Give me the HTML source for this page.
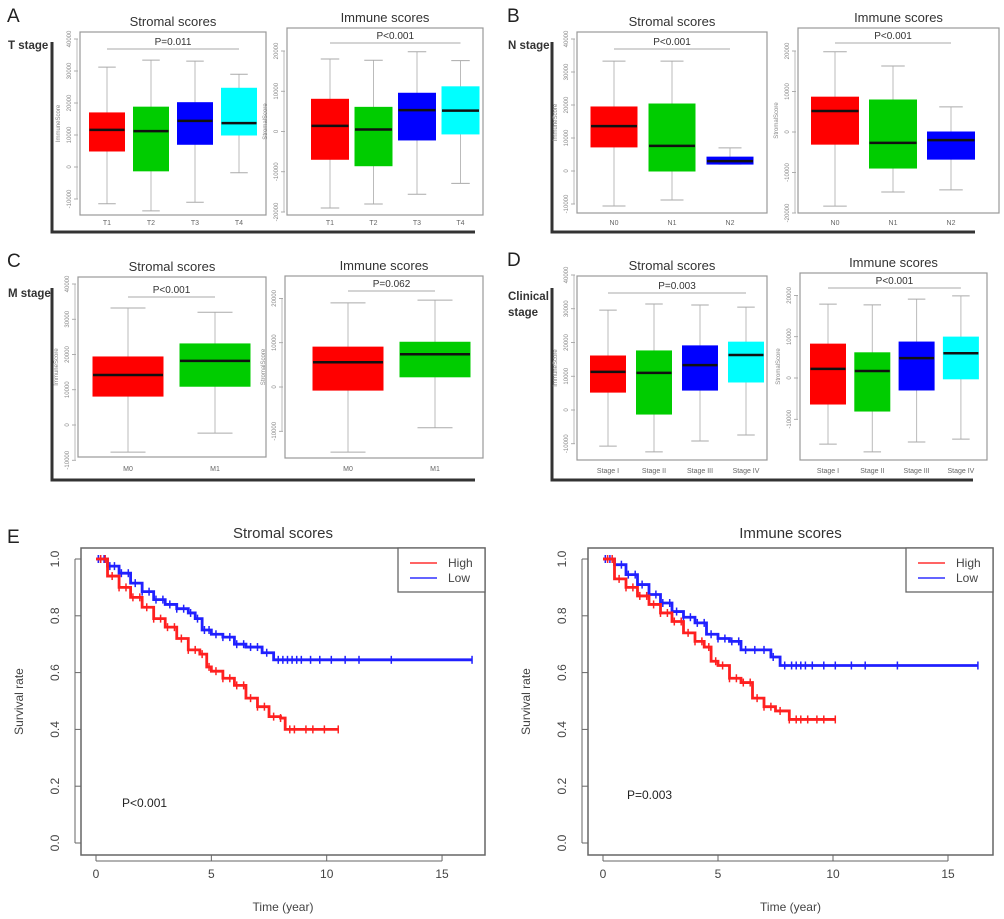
<!DOCTYPE html>
<html><head><meta charset="utf-8">
<style>
body{margin:0;background:#fff;}
svg{display:block;font-family:"Liberation Sans",sans-serif;}
</style></head>
<body>
<svg id="fig" width="1004" height="919" viewBox="0 0 1004 919" xmlns="http://www.w3.org/2000/svg">
<g font-size="19" fill="#222">
<text x="7" y="22">A</text>
<text x="507" y="22">B</text>
<text x="7" y="267">C</text>
<text x="507" y="266">D</text>
<text x="7" y="543">E</text>
</g>
<g font-size="11.5" font-weight="bold" fill="#333">
<text x="8" y="49">T stage</text>
<text x="508" y="49">N stage</text>
<text x="8" y="297">M stage</text>
<text x="508" y="300">Clinical</text>
<text x="508" y="316">stage</text>
</g>
<g stroke="#333" stroke-width="3" fill="none">
<polyline points="52,42 52,232 475,232"/>
<polyline points="552,42 552,232 975,232"/>
<polyline points="52,288 52,480 475,480"/>
<polyline points="552,288 552,480 973,480"/>
</g>
</svg>
<script>
// ---------- Box plot data ----------
const catsT = ["T1","T2","T3","T4"];
const catsN = ["N0","N1","N2"];
const catsM = ["M0","M1"];
const catsS = ["Stage I","Stage II","Stage III","Stage IV"];
const colors4 = ["#ff0000","#00cc00","#0000ff","#00ffff"];
const stromalTicks = [-10000,0,10000,20000,30000,40000];
const immuneTicks = [-20000,-10000,0,10000,20000];

// [whiskerHigh, q3, median, q1, whiskerLow]
const aStromalHi=[31200,33400,33100,29000], aStromalQ3=[16900,18700,20100,24600], aStromalMed=[11600,11200,14400,13700], aStromalQ1=[5000,-1200,7100,10000], aStromalLo=[-11500,-13700,-11000,-1800];
const aImmuneHi=[18000,17700,19800,17600], aImmuneQ3=[8000,6000,9500,11100], aImmuneMed=[1400,500,5300,5200], aImmuneQ1=[-6900,-8500,-2100,-600], aImmuneLo=[-19000,-18000,-15600,-12900];
const bStromalHi=[33300,33300,7000], bStromalQ3=[19400,20300,4200], bStromalMed=[13600,7600,3000], bStromalQ1=[7300,0,2100], bStromalLo=[-10600,-8800,2100];
const bImmuneHi=[19800,16300,6200], bImmuneQ3=[8600,7900,0], bImmuneMed=[5200,-2700,-2000], bImmuneQ1=[-3000,-8900,-6700], bImmuneLo=[-18300,-14800,-14300];
const cStromalHi=[33200,32000], cStromalQ3=[19300,23000], cStromalMed=[14200,18200], cStromalQ1=[8200,11000], cStromalLo=[-7700,-2300];
const cImmuneHi=[19000,19600], cImmuneQ3=[9000,10100], cImmuneMed=[5600,7400], cImmuneQ1=[-700,2300], cImmuneLo=[-14700,-9200];
const dStromalHi=[29600,31400,31100,30500], dStromalQ3=[16000,17500,19000,20100], dStromalMed=[11300,11000,13300,16300], dStromalQ1=[5300,-1200,5900,8300], dStromalLo=[-10700,-12400,-9200,-7400];
const dImmuneHi=[17900,17700,19100,19900], dImmuneQ3=[8200,6100,8700,9900], dImmuneMed=[2200,1700,4800,6000], dImmuneQ1=[-6300,-8000,-2900,-200], dImmuneLo=[-16000,-17900,-15500,-14800];

// ---------- KM data ----------
const kmStromalLowT=[0,0.5,1,1.5,2,2.5,3,3.5,4,4.3,4.6,5,5.5,6,6.5,7,7.2,7.7,16.3];
const kmStromalLowS=[1,0.975,0.95,0.915,0.885,0.857,0.84,0.825,0.81,0.79,0.75,0.735,0.725,0.70,0.69,0.69,0.67,0.645,0.645];
const kmStromalHighT=[0,0.5,1,1.5,2,2.5,3,3.5,4,4.5,4.8,5,5.5,6,6.5,7,7.5,8,8.2,10.5];
const kmStromalHighS=[1,0.94,0.90,0.865,0.83,0.79,0.76,0.72,0.68,0.665,0.62,0.605,0.58,0.555,0.51,0.48,0.445,0.44,0.40,0.40];
const kmImmuneLowT=[0,0.5,1,1.5,2,2.5,3,3.5,4,4.5,5,5.5,6,7,7.3,7.7,16.3];
const kmImmuneLowS=[1,0.98,0.945,0.91,0.875,0.845,0.815,0.795,0.775,0.735,0.72,0.71,0.68,0.68,0.655,0.625,0.625];
const kmImmuneHighT=[0,0.5,1,1.5,2,2.5,3,3.5,4,4.4,4.7,5,5.5,6,6.5,7,7.5,8,8.1,10.1];
const kmImmuneHighS=[1,0.93,0.90,0.87,0.84,0.81,0.78,0.74,0.71,0.69,0.64,0.625,0.58,0.565,0.51,0.48,0.465,0.465,0.435,0.435];
const censorStromalLow=[0.1,0.2,0.35,0.6,0.8,1.1,1.4,1.7,2.0,2.3,2.6,2.9,3.2,3.5,3.8,4.1,4.4,4.7,4.9,5.2,5.5,5.8,6.1,6.4,6.7,7.0,7.4,7.9,8.1,8.3,8.5,8.7,8.9,9.3,9.7,10.2,10.8,11.4,12.8,16.3];
const censorStromalHigh=[0.2,0.4,0.7,1.0,1.3,1.6,1.9,2.2,2.5,2.8,3.1,3.4,3.7,4.0,4.3,4.6,4.9,5.2,5.5,5.8,6.1,6.4,6.7,7.0,7.3,7.7,8.0,8.4,8.6,9.1,9.4,9.9,10.5];
const censorImmuneLow=[0.1,0.3,0.5,0.8,1.1,1.4,1.7,2.0,2.3,2.6,2.9,3.2,3.5,3.8,4.1,4.4,4.7,5.0,5.3,5.6,5.9,6.2,6.6,7.0,7.4,7.9,8.2,8.4,8.6,8.8,9.1,9.6,10.1,10.8,11.4,12.8,16.3];
const censorImmuneHigh=[0.2,0.4,0.7,1.0,1.3,1.6,1.9,2.2,2.5,2.8,3.1,3.4,3.7,4.0,4.3,4.6,4.9,5.2,5.5,5.8,6.1,6.4,6.7,7.0,7.3,7.7,8.1,8.4,8.6,8.9,9.3,9.6,10.1];
const kmXTicks=[0,5,10,15];
const kmYTicks=[0,0.2,0.4,0.6,0.8,1.0];

const NS="http://www.w3.org/2000/svg";
const fig=document.getElementById('fig');
function mk(tag,attrs,parent){const e=document.createElementNS(NS,tag);for(const k in attrs)e.setAttribute(k,attrs[k]);(parent||fig).appendChild(e);return e;}

function boxPanel(name,L,cats,hi,q3,med,q1,lo,ticks,ylab,title,ptext){
  const g=mk('g',{});
  
  
  const y=v=>L.y0+(L.vRef-v)*L.scale;
  const fr=mk('rect',{x:L.fx0,y:L.fy0,width:L.fx1-L.fx0,height:L.fy1-L.fy0,fill:'none',stroke:'#999','stroke-width':1.2},g);
  
  
  const t=mk('text',{x:(L.fx0+L.fx1)/2,y:L.fy0-6,'text-anchor':'middle','font-size':13,fill:'#333'},g);
  t.textContent=title;
  
  
  ticks.forEach(v=>{
    const yy=y(v);
    const tk=mk('line',{x1:L.fx0-6,x2:L.fx0-2,y1:yy,y2:yy,stroke:'#999','stroke-width':0.8},g);
    
    
    const tl=mk('text',{x:L.fx0-9,y:yy,transform:`rotate(-90 ${L.fx0-9} ${yy})`,'text-anchor':'middle','font-size':6,fill:'#888'},g);
    tl.textContent=v===0?'0':String(v);
    
    
  });
  const ax=mk('line',{x1:L.fx0-3,x2:L.fx0-3,y1:y(ticks[ticks.length-1]),y2:y(ticks[0]),stroke:'#aaa','stroke-width':0.8},g);
  
  
  const yl=mk('text',{x:L.fx0-20,y:(L.fy0+L.fy1)/2,transform:`rotate(-90 ${L.fx0-20} ${(L.fy0+L.fy1)/2})`,'text-anchor':'middle','font-size':6,fill:'#888'},g);
  yl.textContent=ylab;
  
  
  const hw=L.bw/2;
  cats.forEach((c,i)=>{
    const cx=L.cx0+i*L.step;
    const w=mk('line',{x1:cx,x2:cx,y1:y(hi[i]),y2:y(lo[i]),stroke:'#bbb','stroke-width':1},g);
    
    
    [hi[i],lo[i]].forEach(v=>{
      const cap=mk('line',{x1:cx-hw/2,x2:cx+hw/2,y1:y(v),y2:y(v),stroke:'#aaa','stroke-width':1},g);
      
      
    });
    const b=mk('rect',{x:cx-hw,y:y(q3[i]),width:L.bw,height:y(q1[i])-y(q3[i]),fill:colors4[i],stroke:colors4[i]},g);
    
    
    const m=mk('line',{x1:cx-hw,x2:cx+hw,y1:y(med[i]),y2:y(med[i]),stroke:'#111','stroke-width':2.5},g);
    
    
    const xl=mk('text',{x:cx,y:L.xlabY,'text-anchor':'middle','font-size':7,fill:'#666'},g);
    xl.textContent=c;
    
    
  });
  const x0=L.cx0, x1=L.cx0+(cats.length-1)*L.step;
  const pl=mk('line',{x1:x0,x2:x1,y1:L.pY,y2:L.pY,stroke:'#aaa','stroke-width':1},g);
  
  
  const pt=mk('text',{x:(x0+x1)/2,y:L.pY-4,'text-anchor':'middle','font-size':10,fill:'#333'},g);
  pt.textContent=ptext;
  
  
}

boxPanel('a-stromal-boxplot',{fx0:80,fy0:32,fx1:266,fy1:215,y0:167,vRef:0,scale:32/10000,cx0:107,step:44,bw:35,xlabY:225,pY:49},catsT,aStromalHi,aStromalQ3,aStromalMed,aStromalQ1,aStromalLo,stromalTicks,'ImmuneScore','Stromal scores','P=0.011');
boxPanel('a-immune-boxplot',{fx0:287,fy0:28,fx1:483,fy1:215,y0:131.5,vRef:0,scale:40.25/10000,cx0:330,step:43.5,bw:37,xlabY:225,pY:43},catsT,aImmuneHi,aImmuneQ3,aImmuneMed,aImmuneQ1,aImmuneLo,immuneTicks,'StromalScore','Immune scores','P<0.001');
boxPanel('b-stromal-boxplot',{fx0:577,fy0:32,fx1:767,fy1:213,y0:171,vRef:0,scale:33/10000,cx0:614,step:58,bw:46,xlabY:225,pY:49},catsN,bStromalHi,bStromalQ3,bStromalMed,bStromalQ1,bStromalLo,stromalTicks,'ImmuneScore','Stromal scores','P<0.001');
boxPanel('b-immune-boxplot',{fx0:798,fy0:28,fx1:999,fy1:213,y0:132,vRef:0,scale:40.5/10000,cx0:835,step:58,bw:47,xlabY:225,pY:43},catsN,bImmuneHi,bImmuneQ3,bImmuneMed,bImmuneQ1,bImmuneLo,immuneTicks,'StromalScore','Immune scores','P<0.001');
boxPanel('c-stromal-boxplot',{fx0:78,fy0:277,fx1:266,fy1:457,y0:425,vRef:0,scale:35.25/10000,cx0:128,step:87,bw:70,xlabY:471,pY:297},catsM,cStromalHi,cStromalQ3,cStromalMed,cStromalQ1,cStromalLo,stromalTicks,'ImmuneScore','Stromal scores','P<0.001');
boxPanel('c-immune-boxplot',{fx0:285,fy0:276,fx1:483,fy1:458,y0:387,vRef:0,scale:44.3/10000,cx0:348,step:87,bw:70,xlabY:471,pY:291},catsM,cImmuneHi,cImmuneQ3,cImmuneMed,cImmuneQ1,cImmuneLo,[-10000,0,10000,20000],'StromalScore','Immune scores','P=0.062');
boxPanel('d-stromal-boxplot',{fx0:577,fy0:276,fx1:767,fy1:460,y0:410,vRef:0,scale:33.75/10000,cx0:608,step:46,bw:35,xlabY:473,pY:293},catsS,dStromalHi,dStromalQ3,dStromalMed,dStromalQ1,dStromalLo,stromalTicks,'ImmuneScore','Stromal scores','P=0.003');
boxPanel('d-immune-boxplot',{fx0:800,fy0:273,fx1:987,fy1:460,y0:378,vRef:0,scale:41.3/10000,cx0:828,step:44.3,bw:35,xlabY:473,pY:288},catsS,dImmuneHi,dImmuneQ3,dImmuneMed,dImmuneQ1,dImmuneLo,[-10000,0,10000,20000],'StromalScore','Immune scores','P<0.001');

function stepAt(T,S,t){let s=S[0];for(let i=0;i<T.length;i++){if(T[i]<=t)s=S[i];}return s;}
function kmPanel(name,L,title,ptext,series){
  const g=mk('g',{});
  
  
  const X=t=>L.x0+t*L.xs, Y=s=>L.y0-s*L.ys;
  const fr=mk('rect',{x:L.fx0,y:L.fy0,width:L.fx1-L.fx0,height:L.fy1-L.fy0,fill:'none',stroke:'#666','stroke-width':1.5},g);
  
  
  const tt=mk('text',{x:(L.fx0+L.fx1)/2,y:L.fy0-10,'text-anchor':'middle','font-size':15,fill:'#333'},g);
  tt.textContent=title;
  
  
  kmXTicks.forEach(v=>{
    const l=mk('line',{x1:X(v),x2:X(v),y1:L.fy1,y2:L.fy1+6,stroke:'#666'},g);
    
    
    const tx=mk('text',{x:X(v),y:L.fy1+23,'text-anchor':'middle','font-size':12,fill:'#444'},g);
    tx.textContent=String(v);
    
    
  });
  const xa=mk('line',{x1:X(0),x2:X(15),y1:L.fy1+6,y2:L.fy1+6,stroke:'#666'},g);
  
  
  kmYTicks.forEach(v=>{
    const l=mk('line',{x1:L.fx0-6,x2:L.fx0,y1:Y(v),y2:Y(v),stroke:'#666'},g);
    
    
    const tx=mk('text',{x:L.fx0-22,y:Y(v),transform:`rotate(-90 ${L.fx0-22} ${Y(v)})`,'text-anchor':'middle','font-size':12,fill:'#444'},g);
    tx.textContent=v.toFixed(1);
    
    
  });
  const ya=mk('line',{x1:L.fx0-6,x2:L.fx0-6,y1:Y(0),y2:Y(1),stroke:'#666'},g);
  
  
  const yl=mk('text',{x:L.fx0-58,y:(L.fy0+L.fy1)/2,transform:`rotate(-90 ${L.fx0-58} ${(L.fy0+L.fy1)/2})`,'text-anchor':'middle','font-size':12,fill:'#444'},g);
  yl.textContent='Survival rate';
  
  
  const xl=mk('text',{x:(L.fx0+L.fx1)/2,y:L.fy1+56,'text-anchor':'middle','font-size':12,fill:'#444'},g);
  xl.textContent='Time (year)';
  
  
  series.forEach(s=>{
    let d=`M${X(s.T[0])},${Y(s.S[0])}`;
    for(let i=1;i<s.T.length;i++){d+=` L${X(s.T[i])},${Y(s.S[i-1])} L${X(s.T[i])},${Y(s.S[i])}`;}
    const p=mk('path',{d:d,fill:'none',stroke:s.c,'stroke-width':2.8},g);
    
    
    s.cens.forEach(t=>{
      const yy=Y(stepAt(s.T,s.S,t));
      const cm=mk('line',{x1:X(t),x2:X(t),y1:yy-4,y2:yy+4,stroke:s.c,'stroke-width':1.5},g);
      
      
    });
  });
  const lg=mk('g',{},g);
  
  
  mk('rect',{x:L.lx,y:L.fy0,width:L.fx1-L.lx,height:44,fill:'#fff',stroke:'#666','stroke-width':1.3},lg);
  [['High','#ff3030',15],['Low','#3030ff',30]].forEach(([lab,c,dy])=>{
    const ln=mk('line',{x1:L.lx+12,x2:L.lx+39,y1:L.fy0+dy,y2:L.fy0+dy,stroke:c,'stroke-width':1.5},lg);
    
    
    const tx=mk('text',{x:L.lx+50,y:L.fy0+dy+4,'font-size':12,fill:'#444'},lg);
    tx.textContent=lab;
    
    
  });
  const pt=mk('text',{x:L.px,y:L.py,'font-size':12,fill:'#222'},g);
  pt.textContent=ptext;
  
  
}
kmPanel('e-stromal-km',{fx0:81,fy0:548,fx1:485,fy1:855,x0:96,xs:23.07,y0:843,ys:284,lx:398,px:122,py:807},'Stromal scores','P<0.001',
  [{n:'low',c:'#2020ff',T:kmStromalLowT,S:kmStromalLowS,cens:censorStromalLow},{n:'high',c:'#ff2020',T:kmStromalHighT,S:kmStromalHighS,cens:censorStromalHigh}]);
kmPanel('e-immune-km',{fx0:588,fy0:548,fx1:993,fy1:855,x0:603,xs:23,y0:843,ys:284,lx:906,px:627,py:799},'Immune scores','P=0.003',
  [{n:'low',c:'#2020ff',T:kmImmuneLowT,S:kmImmuneLowS,cens:censorImmuneLow},{n:'high',c:'#ff2020',T:kmImmuneHighT,S:kmImmuneHighS,cens:censorImmuneHigh}]);
</script>
</body></html>
